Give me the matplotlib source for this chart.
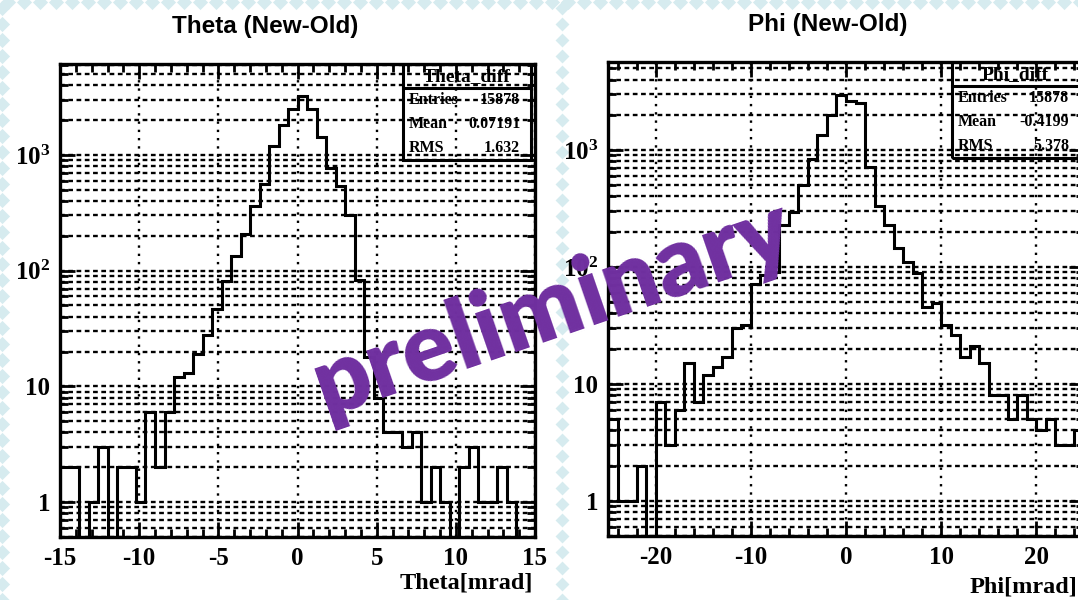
import numpy as np
import matplotlib
matplotlib.use('Agg')
import matplotlib.pyplot as plt
from matplotlib.patches import Rectangle
from matplotlib.lines import Line2D
from matplotlib.ticker import FixedLocator, FixedFormatter, MultipleLocator, LogLocator, NullFormatter

plt.rcParams['font.family'] = 'Liberation Serif'
plt.rcParams['font.weight'] = 'bold'
plt.rcParams['axes.unicode_minus'] = False
plt.rcParams['mathtext.fontset'] = 'custom'
plt.rcParams['mathtext.rm'] = 'Liberation Serif:bold'
plt.rcParams['mathtext.it'] = 'Liberation Serif:bold'
plt.rcParams['mathtext.bf'] = 'Liberation Serif:bold'

# counts per bin, 50 bins each (theta: -15..15 mrad, phi: -25..25 mrad)
theta_counts = [2, 2, 0, 1, 3, 0, 2, 2, 1, 6,
                2, 6, 12, 13, 19, 28, 47, 82, 134, 207,
                362, 561, 1197, 1800, 2480, 3240, 2480, 1420, 767, 540,
                303, 83, 18, 8, 4, 4, 3, 4, 1, 2,
                1, 0, 2, 3, 1, 1, 2, 1, 0, 0]
phi_counts = [5, 1, 1, 2, 0, 7, 3, 6, 15, 7,
              12, 14, 17, 30, 32, 72, 85, 90, 228, 296,
              501, 832, 1344, 1995, 2960, 2600, 2500, 720, 331, 228,
              144, 110, 88, 45, 49, 32, 26, 17, 21, 15,
              8, 8, 5, 8, 5, 4, 5, 3, 3, 4]

theta_xticks = [-15, -10, -5, 0, 5, 10, 15]
theta_xlabels = ['-15', '-10', '-5', '0', '5', '10', '15']
phi_xticks = [-20, -10, 0, 10, 20]
phi_xlabels = ['-20', '-10', '0', '10', '20']
y_major = [1, 10, 100, 1000]
y_labels = ['1', '10', r'$\mathrm{10^{2}}$', r'$\mathrm{10^{3}}$']

theta_stats = [('Entries', '15878'), ('Mean', '0.07191'), ('RMS', '1.632')]
phi_stats = [('Entries', '15878'), ('Mean', '-0.4199'), ('RMS', '5.378')]

W, H = 1078, 600
fig = plt.figure(figsize=(W / 100, H / 100), dpi=100)

# slide border: light blue diamonds
bg = fig.add_axes([0, 0, 1, 1], zorder=-5)
bg.set_xlim(0, W)
bg.set_ylim(H, 0)
bg.axis('off')
blue = '#d6ebef'
xs = np.arange(8, W + 16, 16)
ys = np.arange(8, H + 16, 16)
bg.scatter(xs, np.full(len(xs), 1.5), marker='D', s=60, color=blue, lw=0)
bg.scatter(np.full(len(ys), 1.5), ys, marker='D', s=60, color=blue, lw=0)
bg.scatter(np.full(len(ys), 562), ys, marker='D', s=50, color=blue, lw=0)


def px_axes(left, top, right, bottom):
    return fig.add_axes([left / W, 1 - bottom / H, (right - left) / W, (bottom - top) / H])


def draw_panel(ax, counts, lo, hi, xticks, xlabels, minor_step, ymax, stats, name):
    edges = np.linspace(lo, hi, len(counts) + 1)
    vals = np.array(counts, dtype=float)
    ax.stairs(np.where(vals > 0, vals, 1e-3), edges, color='black', lw=2.2, zorder=3)
    ax.set_yscale('log')
    ax.set_xlim(lo, hi)
    ax.set_ylim(0.5, ymax)

    ax.xaxis.set_major_locator(FixedLocator(xticks))
    ax.xaxis.set_major_formatter(FixedFormatter(xlabels))
    ax.xaxis.set_minor_locator(MultipleLocator(minor_step))
    ax.yaxis.set_major_locator(FixedLocator(y_major))
    ax.yaxis.set_major_formatter(FixedFormatter(y_labels))
    ax.yaxis.set_minor_locator(LogLocator(base=10, subs=np.arange(2, 10), numticks=20))
    ax.yaxis.set_minor_formatter(NullFormatter())

    ax.grid(axis='y', which='both', color='black', lw=1.7, ls=(0, (2, 1.5)))
    ax.grid(axis='x', which='major', color='black', lw=1.7, ls=(0, (1, 2.5)))
    ax.set_axisbelow(True)

    for s in ax.spines.values():
        s.set_linewidth(2.4)
    ax.tick_params(which='both', direction='in', top=True, right=True, width=2, labelsize=18)
    ax.tick_params(which='major', length=11, pad=7)
    ax.tick_params(which='minor', length=6)

    # stats box
    x0, x1, ysep, y0 = 0.722, 0.991, 0.949, 0.797
    ax.add_patch(Rectangle((x0, y0), x1 - x0, 1 - y0, transform=ax.transAxes,
                           fill=False, ec='black', lw=2.2, zorder=5))
    ax.add_line(Line2D([x0, x1], [ysep, ysep], transform=ax.transAxes, color='black', lw=2.2, zorder=5))
    ax.text((x0 + x1) / 2, (1 + ysep) / 2, name, transform=ax.transAxes, ha='center', va='center',
            fontsize=14, zorder=6)
    row_h = (ysep - y0) / 3
    for i, (lab, val) in enumerate(stats):
        yy = ysep - row_h * (i + 0.5)
        ax.text(x0 + 0.012, yy, lab, transform=ax.transAxes, ha='left', va='center', fontsize=11.5, zorder=6)
        ax.text(x1 - 0.022, yy, val, transform=ax.transAxes, ha='right', va='center', fontsize=11.5, zorder=6)


ax1 = px_axes(60, 64, 535, 537)
draw_panel(ax1, theta_counts, -15, 15, theta_xticks, theta_xlabels, 1, 6100, theta_stats, 'Theta_diff')

ax2 = px_axes(608, 62, 1084, 536)
draw_panel(ax2, phi_counts, -25, 25, phi_xticks, phi_xlabels, 2, 5650, phi_stats, 'Phi_diff')

fig.text(265 / W, 1 - 27 / H, 'Theta (New-Old)', ha='center', va='center',
         family='Liberation Sans', weight='bold', fontsize=17.5)
fig.text(828 / W, 1 - 25 / H, 'Phi (New-Old)', ha='center', va='center',
         family='Liberation Sans', weight='bold', fontsize=17.5)

fig.text(533 / W, 1 - 583 / H, 'Theta[mrad]', ha='right', va='center', fontsize=17.5)
fig.text(1077 / W, 1 - 587 / H, 'Phi[mrad]', ha='right', va='center', fontsize=17.5)

fig.text(553 / W, 1 - 307 / H, 'preliminary', ha='center', va='center', rotation=19,
         family='Lato', weight='heavy', fontsize=70, color='#7030a0', zorder=20)

fig.savefig('out.png', dpi=100)
